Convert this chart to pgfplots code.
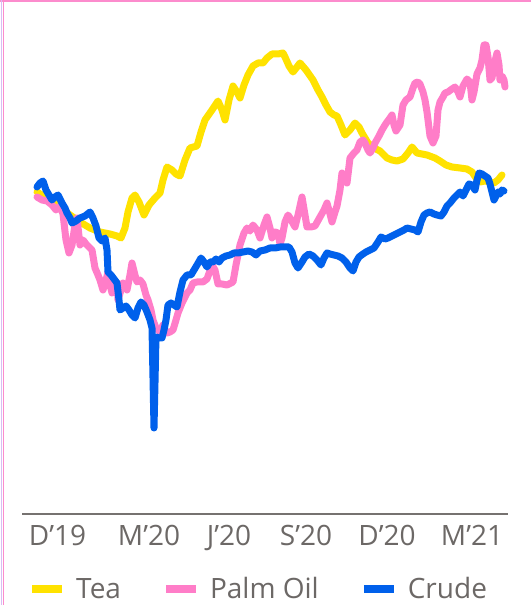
\documentclass[border=0pt]{standalone}
\usepackage{pgfplots}
\pgfplotsset{compat=1.18}
\usepackage{fontspec}
\setmainfont{Open Sans}

\definecolor{teaY}{RGB}{255,226,0}
\definecolor{palmP}{RGB}{255,125,200}
\definecolor{crudeB}{RGB}{0,96,235}
\definecolor{axgray}{RGB}{118,114,112}
\definecolor{txtgray}{RGB}{108,104,102}
\definecolor{framepink}{RGB}{252,140,205}
\definecolor{framelav}{RGB}{215,190,245}

% Price paths (x: chart position, y: level above baseline)
\pgfplotstableread{
x y
37 322
50 314
60 307
70 299
80 292
90 286
100 282
110 280
117 278
121 276
125 286
128 302
132 316
135 319
139 312
144 299
149 309
155 316
160 321
163 334
167 347
172 344
176 340
180 338
185 354
190 366
197 368
201 382
205 394
212 404
218 413
222 404
225 394
229 414
233 428
237 422
240 416
244 429
248 439
253 448
258 451
263 451
267 456
272 460
278 460
283 461
285 457
289 448
293 442
297 447
300 451
306 444
313 434
318 424
322 417
326 409
330 402
334 399
337 398
341 389
345 379
350 384
355 391
359 387
362 381
368 371
374 366
380 363
387 356
392 354
397 353
403 355
408 361
412 367
417 361
422 360
427 359
435 356
440 353
446 349
452 347
460 346
467 345
472 342
476 336
480 332
485 333
490 332
494 331
498 334
502 339
}\tea

\pgfplotstableread{
x y
37 317
42 314
47 313
52 309
56 304
60 308
63 300
66 274
69 261
72 269
75 289
77 296
80 269
83 274
86 270
89 267
92 264
95 246
98 239
100 234
103 224
106 234
108 242
110 229
112 221
115 229
117 231
118 214
121 224
123 231
127 224
130 239
132 251
135 239
137 232
140 234
143 230
146 219
148 214
151 204
153 194
156 186
158 184
160 182
163 189
165 184
167 181
170 182
173 184
176 194
178 201
182 211
187 221
190 224
193 231
197 232
203 232
207 235
212 249
215 244
218 230
222 230
227 229
233 232
236 249
240 269
244 281
247 286
250 283
253 289
257 284
260 276
264 289
267 297
270 286
272 276
275 282
278 281
280 270
282 276
285 292
288 299
290 296
295 287
298 299
302 317
305 299
307 287
311 287
315 288
320 297
324 304
327 311
330 300
332 292
335 302
337 308
340 324
342 341
345 334
347 331
350 356
354 361
357 364
360 372
363 374
365 371
368 364
370 361
373 366
375 371
379 378
382 384
385 389
387 392
390 396
392 399
394 389
396 383
398 386
400 389
403 409
406 414
410 417
413 426
415 431
418 432
420 430
423 422
425 414
427 402
430 378
433 371
436 378
438 404
440 412
443 417
445 421
448 422
452 425
455 427
458 422
460 417
463 428
467 435
470 432
472 414
474 422
477 440
480 446
482 454
484 469
486 469
488 457
490 434
492 436
494 449
497 461
499 449
500 434
502 438
504 434
505 427
}\palm

\pgfplotstableread{
x y
37 327
40 331
43 333
46 324
49 319
52 314
55 317
58 319
62 311
65 306
67 301
70 296
72 291
76 293
80 296
85 298
90 302
93 296
96 288
99 276
102 273
105 276
107 264
108 242
111 239
114 235
117 231
119 214
120 204
123 206
126 208
129 204
132 199
135 196
138 206
141 212
144 209
147 202
150 194
152 186
154 86
156 177
159 176
162 176
164 184
166 194
168 209
171 211
174 209
177 207
180 222
183 234
187 239
191 239
194 244
197 249
201 256
204 252
207 247
210 252
213 252
216 255
219 252
222 256
226 258
230 259
234 261
238 261
243 262
248 263
252 262
256 259
260 263
265 264
270 266
275 266
280 267
285 267
289 267
292 262
295 251
298 246
302 252
305 257
309 260
313 258
317 254
321 249
324 256
327 261
330 260
334 259
338 258
342 256
346 252
350 246
353 243
356 252
359 257
363 260
366 262
370 264
374 266
378 272
381 277
385 275
388 276
392 278
396 280
400 282
404 284
407 286
411 285
415 284
418 282
421 292
424 299
427 301
430 302
434 300
437 299
441 298
444 302
447 308
450 311
454 316
457 319
460 322
463 318
466 324
469 330
472 329
475 324
477 334
479 341
482 340
485 338
488 336
490 330
492 322
494 314
496 318
498 322
500 320
502 324
504 323
}\crude

\begin{document}
\begin{tikzpicture}
\path[use as bounding box] (0,0) rectangle (531pt,605pt);
% page frame
\draw[framepink, line width=2pt] (0,604pt) -- (531pt,604pt);
\draw[framelav, line width=1.5pt] (1.5pt,0) -- (1.5pt,605pt);
\draw[framepink, line width=1.5pt] (3.5pt,0) -- (3.5pt,603pt);
\begin{axis}[
  at={(22pt,91pt)}, anchor=south west,
  scale only axis, width=486pt, height=494pt,
  xmin=22, xmax=508, ymin=0, ymax=494,
  axis x line=bottom, axis y line=none,
  x axis line style={axgray, line width=1.8pt, -},
  xtick={57.5,149,229,306,387,472},
  xticklabels={D’19,M’20,J’20,S’20,D’20,M’21},
  major tick length=0pt,
  xticklabel style={anchor=north, inner sep=0pt, yshift=-11pt,
    font=\fontsize{28}{28}\selectfont, text=txtgray},
  clip=false,
  legend columns=3,
  legend style={draw=none, fill=none, at={(axis description cs:0,0)},
    anchor=north west, xshift=6pt, yshift=-63.5pt, inner sep=0pt,
    font=\fontsize{28}{28}\selectfont, text=txtgray,
    nodes={inner sep=0pt},
    /tikz/every odd column/.append style={column sep=10pt},
    /tikz/every even column/.append style={column sep=41pt}},
  legend image code/.code={\draw[line width=8pt, line cap=butt] (0pt,0pt) -- (30pt,0pt);},
  every axis plot/.append style={line width=7pt, line join=round, line cap=round},
]
\addplot[teaY] table {\tea};
\addlegendentry{Tea}
\addplot[palmP] table {\palm};
\addlegendentry{Palm Oil}
\addplot[crudeB] table {\crude};
\addlegendentry{Crude}
\end{axis}
\end{tikzpicture}
\end{document}
